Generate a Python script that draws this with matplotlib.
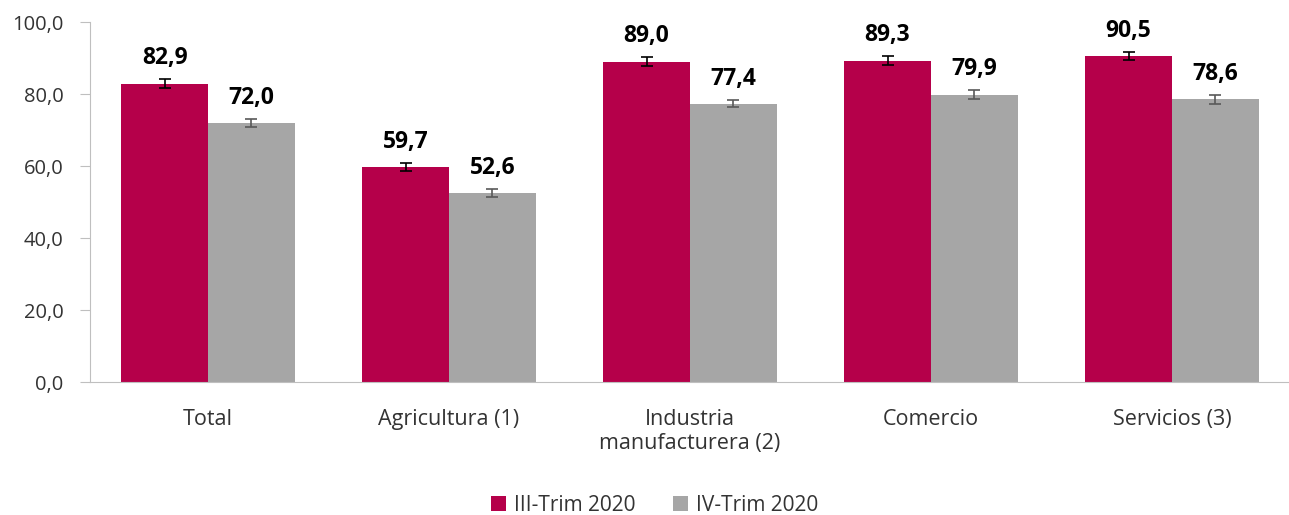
import numpy as np
import matplotlib.pyplot as plt

categories = ["Total", "Agricultura (1)", "Industria\nmanufacturera (2)", "Comercio", "Servicios (3)"]
trim3 = [82.9, 59.7, 89.0, 89.3, 90.5]
trim4 = [72.0, 52.6, 77.4, 79.9, 78.6]
err3 = [1.2, 1.1, 1.2, 1.2, 1.1]
err4 = [1.2, 1.1, 1.0, 1.2, 1.2]
series_names = ["III-Trim 2020", "IV-Trim 2020"]

plt.rcParams["font.family"] = ["Open Sans", "DejaVu Sans"]

fig = plt.figure(figsize=(12.89, 5.15), dpi=100)
ax = fig.add_axes([0.0698, 0.258, 0.9302, 0.699])

x = np.arange(len(categories))
w = 0.36
red = "#B5004A"
grey = "#A6A6A6"

ax.bar(x - w / 2, trim3, w, color=red, label=series_names[0],
       yerr=err3, error_kw=dict(ecolor="black", elinewidth=1.2, capsize=4.5, capthick=1.2))
ax.bar(x + w / 2, trim4, w, color=grey, label=series_names[1],
       yerr=err4, error_kw=dict(ecolor="#595959", elinewidth=1.2, capsize=4.5, capthick=1.2))

for i in range(len(categories)):
    ax.text(x[i] - w / 2, trim3[i] + err3[i] + 2.5, f"{trim3[i]:.1f}".replace(".", ","),
            ha="center", va="bottom", fontsize=16.5, fontweight="bold")
    ax.text(x[i] + w / 2, trim4[i] + err4[i] + 2.5, f"{trim4[i]:.1f}".replace(".", ","),
            ha="center", va="bottom", fontsize=16.5, fontweight="bold")

ax.set_ylim(0, 100)
ax.set_xlim(-0.49, len(categories) - 0.514)
ax.set_yticks(np.arange(0, 101, 20))
ax.set_yticklabels([f"{v:.1f}".replace(".", ",") for v in np.arange(0, 101, 20)], fontsize=14.5, color="#333333")
ax.set_xticks(x)
ax.set_xticklabels(categories, fontsize=15.5, color="#333333")
ax.tick_params(axis="x", length=0, pad=19)
ax.tick_params(axis="y", length=7, color="#BFBFBF", pad=12)

for s in ["top", "right"]:
    ax.spines[s].set_visible(False)
ax.spines["left"].set_color("#BFBFBF")
ax.spines["bottom"].set_color("#BFBFBF")

fig.legend(loc="lower center", bbox_to_anchor=(0.508, -0.038), ncol=2, frameon=False,
           fontsize=15, handlelength=0.7, handleheight=0.7, handletextpad=0.4, columnspacing=1.8,
           labelcolor="#333333")

fig.savefig("out.png", dpi=100)
